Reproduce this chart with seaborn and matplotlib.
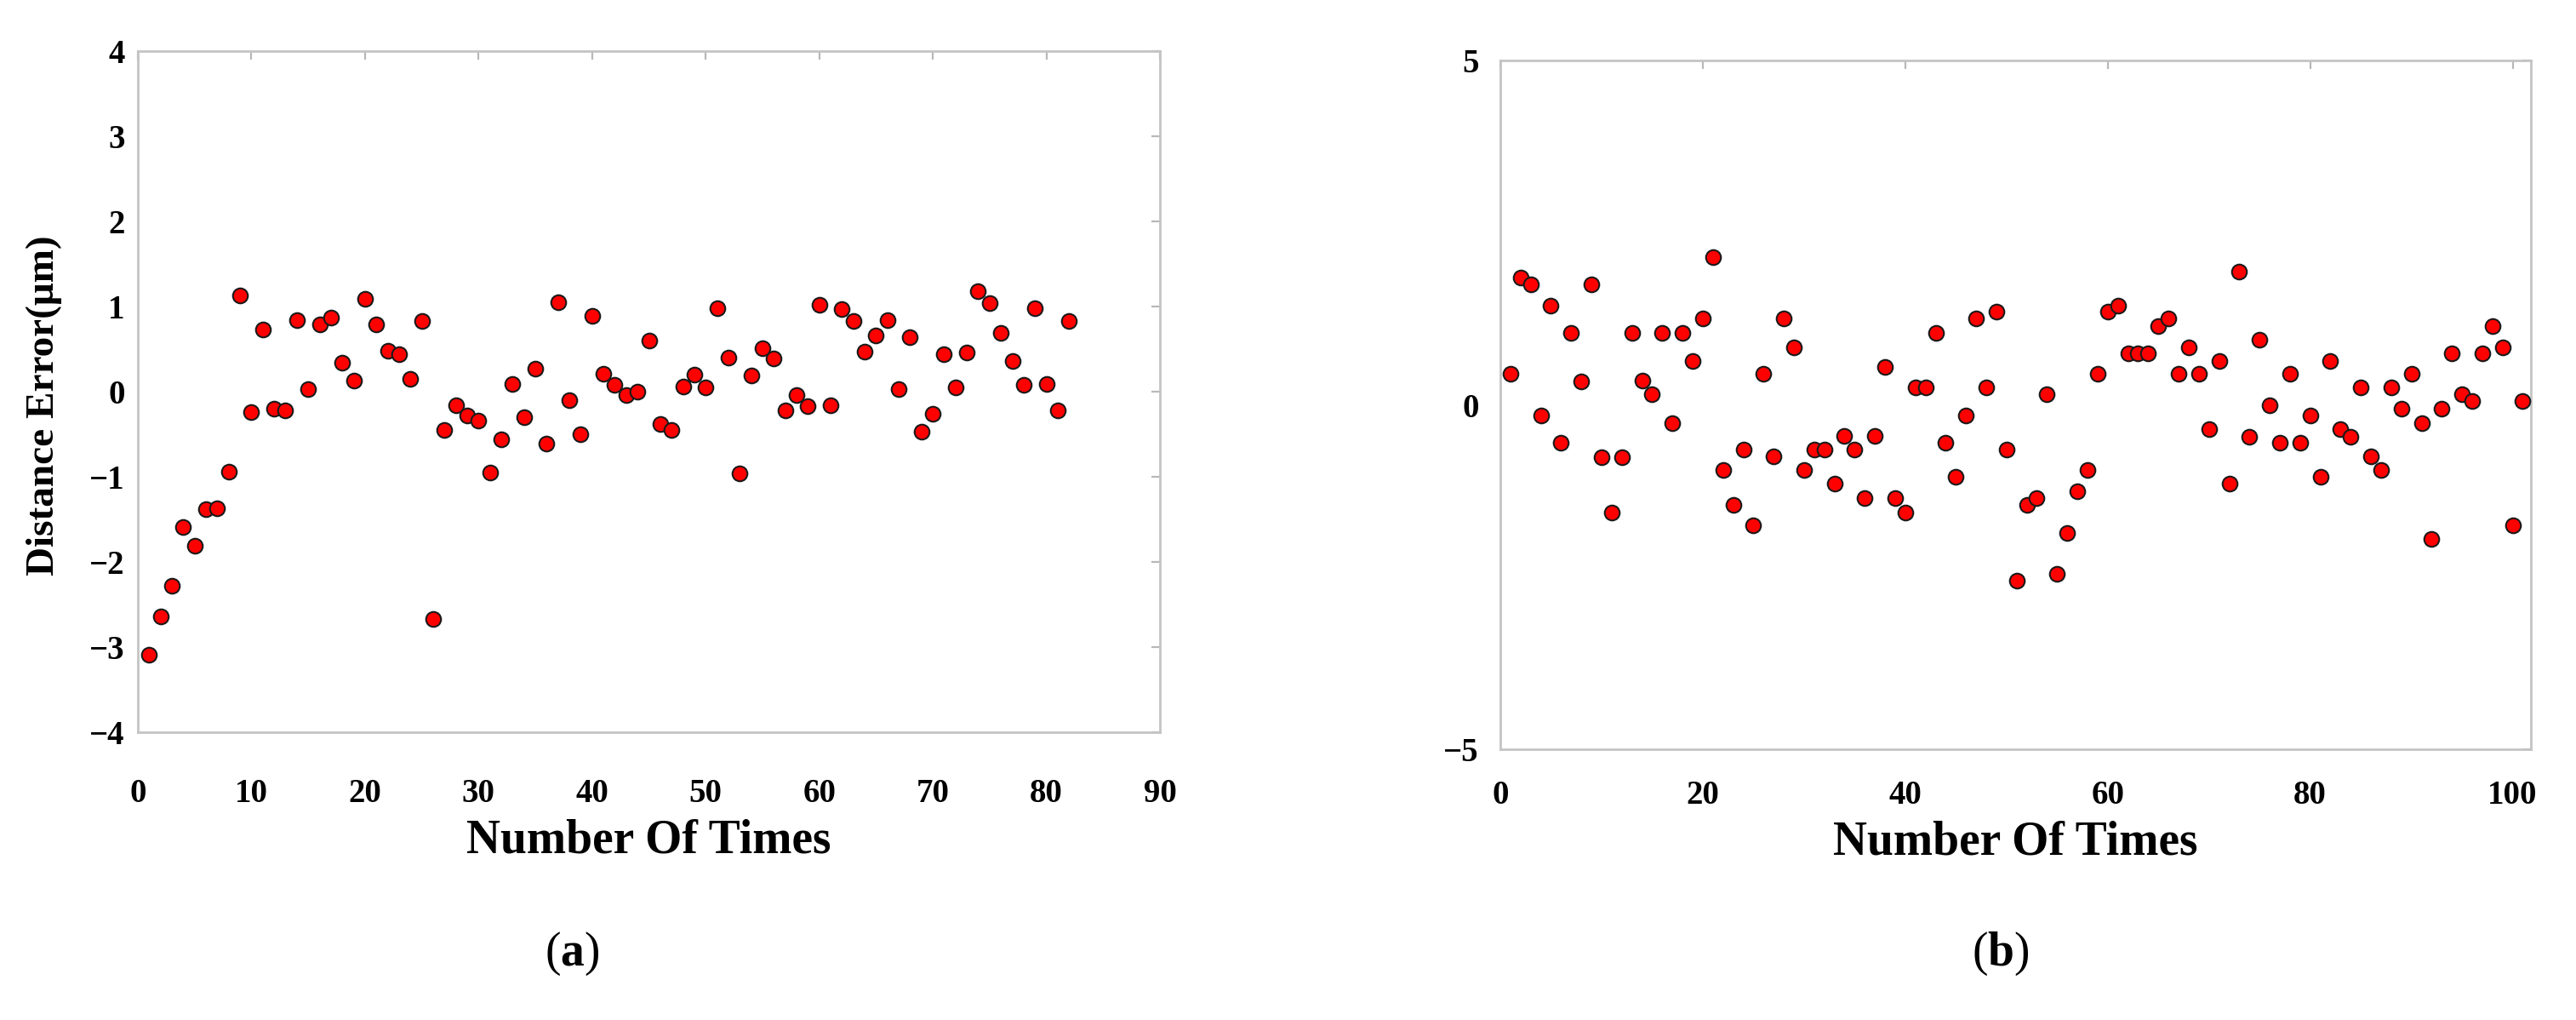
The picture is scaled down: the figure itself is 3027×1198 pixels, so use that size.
import matplotlib
matplotlib.use("Agg")
import matplotlib.pyplot as plt
import seaborn as sns

# panel (a): 82 measurements
times_a = list(range(1, 83))
error_a = [-3.09, -2.64, -2.28, -1.59, -1.81, -1.38, -1.37, -0.94, 1.13, -0.24,
           0.73, -0.20, -0.22, 0.84, 0.03, 0.79, 0.87, 0.34, 0.13, 1.09,
           0.79, 0.48, 0.44, 0.15, 0.83, -2.67, -0.45, -0.16, -0.28, -0.34,
           -0.95, -0.56, 0.09, -0.30, 0.27, -0.61, 1.05, -0.10, -0.50, 0.89,
           0.21, 0.08, -0.04, 0.00, 0.60, -0.38, -0.45, 0.06, 0.20, 0.05,
           0.98, 0.40, -0.96, 0.19, 0.51, 0.39, -0.22, -0.04, -0.17, 1.02,
           -0.16, 0.97, 0.83, 0.47, 0.66, 0.84, 0.03, 0.64, -0.47, -0.26,
           0.44, 0.05, 0.46, 1.18, 1.04, 0.69, 0.36, 0.08, 0.98, 0.09,
           -0.22, 0.83]

# panel (b): 101 measurements
times_b = list(range(1, 102))
error_b = [0.45, 1.85, 1.75, -0.15, 1.44, -0.55, 1.05, 0.34, 1.75, -0.76,
           -1.56, -0.76, 1.05, 0.35, 0.15, 1.05, -0.26, 1.05, 0.64, 1.25,
           2.15, -0.95, -1.45, -0.65, -1.75, 0.45, -0.75, 1.25, 0.84, -0.95,
           -0.65, -0.65, -1.14, -0.45, -0.65, -1.35, -0.45, 0.55, -1.35, -1.56,
           0.25, 0.25, 1.05, -0.55, -1.05, -0.15, 1.25, 0.25, 1.35, -0.65,
           -2.55, -1.45, -1.35, 0.15, -2.45, -1.86, -1.26, -0.95, 0.45, 1.35,
           1.44, 0.75, 0.75, 0.75, 1.14, 1.25, 0.45, 0.84, 0.45, -0.35,
           0.64, -1.14, 1.94, -0.46, 0.95, -0.01, -0.55, 0.45, -0.55, -0.15,
           -1.05, 0.64, -0.35, -0.46, 0.25, -0.75, -0.95, 0.25, -0.05, 0.45,
           -0.26, -1.95, -0.05, 0.75, 0.15, 0.05, 0.75, 1.14, 0.84, -1.75,
           0.05]

xticks_a = list(range(0, 91, 10))
yticks_a = list(range(-4, 5))
xticks_b = list(range(0, 101, 20))
yticks_b = [-5, 0, 5]

sns.set_theme(style="white")
plt.rcParams["font.family"] = ["Liberation Serif", "DejaVu Serif"]
plt.rcParams["text.color"] = "black"
plt.rcParams["axes.labelcolor"] = "black"
plt.rcParams["mathtext.fontset"] = "custom"
plt.rcParams["mathtext.rm"] = "Liberation Serif"
plt.rcParams["mathtext.bf"] = "Liberation Serif:bold"

W, H = 3027, 1198
fig = plt.figure(figsize=(W / 100, H / 100), dpi=100)
fig.patch.set_facecolor("white")


def px_axes(left, top, right, bottom):
    return fig.add_axes([left / W, 1 - bottom / H, (right - left) / W, (bottom - top) / H])


ax_a = px_axes(162, 60, 1363, 860)
ax_b = px_axes(1763, 71, 2974, 880)

spine_col = "#c4c4c4"
tick_col = "#b8b8b8"


def style_axes(ax, xpad, ypad, size):
    for sp in ax.spines.values():
        sp.set_visible(True)
        sp.set_color(spine_col)
        sp.set_linewidth(2.0)
    ax.tick_params(direction="in", length=7, width=1.6, color=tick_col,
                   top=True, right=True, labelsize=size, labelcolor="black")
    ax.tick_params(axis="x", pad=xpad)
    ax.tick_params(axis="y", pad=ypad)
    for lab in ax.get_xticklabels() + ax.get_yticklabels():
        lab.set_fontweight("bold")


sns.scatterplot(x=times_a, y=error_a, ax=ax_a, color="#ff0000", edgecolor="#1a1a1a",
                s=160, linewidth=1.5, zorder=3)
ax_a.set_xlim(0, 90)
ax_a.set_ylim(-4, 4)
ax_a.set_xticks(xticks_a)
ax_a.set_yticks(yticks_a)
style_axes(ax_a, 39, 11, 28)
ax_a.set_xlabel("Number Of Times", fontsize=40, fontweight="bold")
ax_a.xaxis.label.set_va("center")
ax_a.xaxis.set_label_coords(0.5, (860 - 987) / 800)
ax_a.set_ylabel("Distance Error(μm)", fontsize=34, fontweight="bold")
ax_a.yaxis.label.set_va("center")
ax_a.yaxis.set_label_coords((52 - 162) / 1201, 0.48)

sns.scatterplot(x=times_b, y=error_b, ax=ax_b, color="#ff0000", edgecolor="#1a1a1a",
                s=160, linewidth=1.5, zorder=3)
ax_b.set_xlim(0, 101.8)
ax_b.set_ylim(-5, 5)
ax_b.set_xticks(xticks_b)
ax_b.set_yticks(yticks_b)
style_axes(ax_b, 26, 18, 28)
ax_b.set_xlabel("Number Of Times", fontsize=40, fontweight="bold")
ax_b.xaxis.label.set_va("center")
ax_b.xaxis.set_label_coords(0.5, (880 - 990) / 809)
ax_b.set_ylabel("")

fig.text(672 / W, 1 - 1120 / H, r"$\mathrm{(}\mathbf{a}\mathrm{)}$", fontsize=40,
         ha="center", va="center", color="black")
fig.text(2351 / W, 1 - 1120 / H, r"$\mathrm{(}\mathbf{b}\mathrm{)}$", fontsize=40,
         ha="center", va="center", color="black")

fig.savefig("out.png", dpi=100, facecolor="white")
